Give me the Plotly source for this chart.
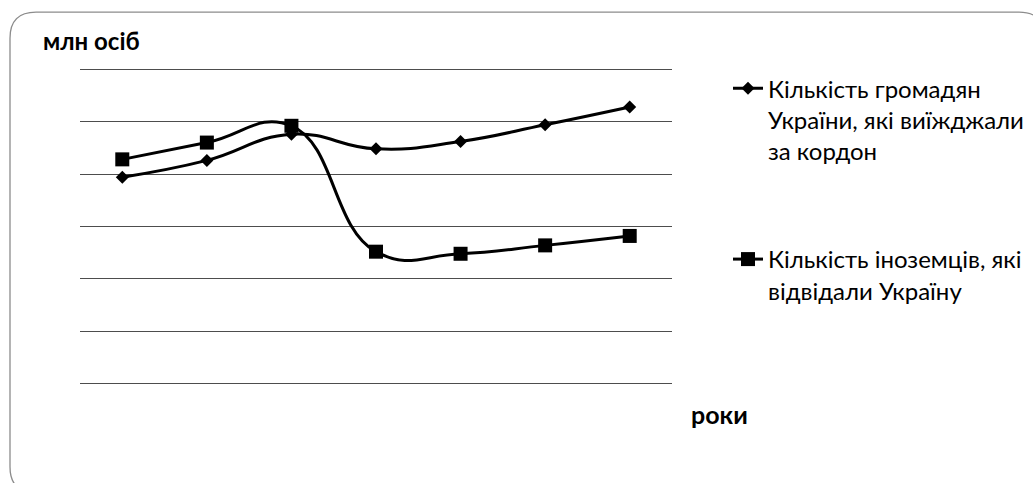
import plotly.graph_objects as go

years = ["2011", "2012", "2013", "2014", "2015", "2016", "2017"]
citizens_abroad = [19.7, 21.3, 23.8, 22.4, 23.1, 24.7, 26.4]
foreigners_visited = [21.4, 23.0, 24.6, 12.6, 12.4, 13.2, 14.1]
name_citizens = "Кількість громадян<br>України, які виїжджали<br>за кордон"
name_foreigners = "Кількість іноземців, які<br>відвідали Україну"
y_title = "млн осіб"
x_title = "роки"

W, H = 1033, 483
# data area: value 0 at y=384px, value 30 at y=69px
Y0PX, Y30PX = 384, 69
UNIT = (Y0PX - Y30PX) / 30.0
PAD = 0.3  # extra range so the edge gridlines are drawn
L, R = 80, 672
T = Y30PX - PAD * UNIT
B = Y0PX + PAD * UNIT


def px(x):
    return (x - L) / (R - L)


def py(y):
    return (B - y) / (B - T)


fig = go.Figure()
fig.add_trace(go.Scatter(
    x=years, y=citizens_abroad, name=name_citizens, mode="lines+markers",
    line=dict(color="black", width=3, shape="spline", smoothing=1.3),
    marker=dict(symbol="diamond", size=10, color="black"),
    legend="legend",
))
fig.add_trace(go.Scatter(
    x=years, y=foreigners_visited, name=name_foreigners, mode="lines+markers",
    line=dict(color="black", width=3, shape="spline", smoothing=1.3),
    marker=dict(symbol="square", size=14, color="black"),
    legend="legend2",
))

# rounded chart border
x0, y0, x1, y1, r = 10, 12, 1045, 493, 26
path = (
    f"M {px(x0)},{py(y0 + r)} "
    f"Q {px(x0)},{py(y0)} {px(x0 + r)},{py(y0)} "
    f"L {px(x1 - r)},{py(y0)} "
    f"Q {px(x1)},{py(y0)} {px(x1)},{py(y0 + r)} "
    f"L {px(x1)},{py(y1 - r)} "
    f"Q {px(x1)},{py(y1)} {px(x1 - r)},{py(y1)} "
    f"L {px(x0 + r)},{py(y1)} "
    f"Q {px(x0)},{py(y1)} {px(x0)},{py(y1 - r)} Z"
)
fig.add_shape(type="path", path=path, xref="paper", yref="paper",
              line=dict(color="#8c8c8c", width=1.3), layer="below")

fig.add_annotation(text=f"<b>{y_title}</b>", xref="paper", yref="paper",
                   x=px(41), y=py(40), xanchor="left", yanchor="middle",
                   showarrow=False, font=dict(family="Lato", size=24, color="black"))
fig.add_annotation(text=f"<b>{x_title}</b>", xref="paper", yref="paper",
                   x=px(689), y=py(414), xanchor="left", yanchor="middle",
                   showarrow=False, font=dict(family="Lato", size=25, color="black"))

legend_font = dict(family="Lato", size=24, color="black")
fig.update_layout(
    width=W, height=H,
    margin=dict(l=L, r=W - R, t=T, b=H - B, autoexpand=False),
    paper_bgcolor="white", plot_bgcolor="white",
    font=dict(family="Lato", color="black"),
    showlegend=True,
    legend=dict(x=px(728), y=py(66), xanchor="left", yanchor="top",
                font=legend_font, valign="top", bgcolor="rgba(0,0,0,0)",
                itemclick=False),
    legend2=dict(x=px(728), y=py(237), xanchor="left", yanchor="top",
                 font=legend_font, valign="top", bgcolor="rgba(0,0,0,0)",
                 itemclick=False),
    xaxis=dict(type="category", range=[-0.5, 6.5], showticklabels=False,
               showgrid=False, zeroline=False, showline=False, ticks=""),
    yaxis=dict(range=[-PAD, 30 + PAD], tick0=0, dtick=5, showticklabels=False,
               showgrid=True, gridcolor="#4d4d4d", gridwidth=1.2,
               zeroline=False, showline=False, ticks=""),
)

fig.write_html("out.html", config={"displayModeBar": False},
               post_script="document.body.style.margin='0';")
